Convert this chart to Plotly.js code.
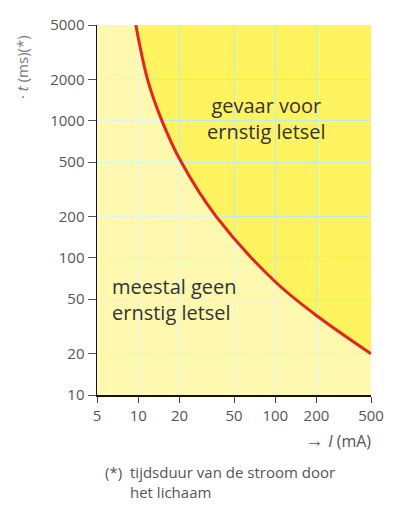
<!DOCTYPE html>
<html>
<head>
<meta charset="utf-8">
<script src="https://cdn.plot.ly/plotly-3.0.1.min.js"></script>
<style>html,body{margin:0;padding:0;background:#fff;}#chart{width:398px;height:516px;}</style>
</head>
<body>
<div id="chart"></div>
<script>
// Data
const currentMA = [9.6, 11.7, 14.9, 20.6, 37.1, 100, 200, 500];
const timeMS    = [5000, 2000, 1000, 500, 200, 67, 38, 20];
const xTicks = [5, 10, 20, 50, 100, 200, 500];
const yTicks = [10, 20, 50, 100, 200, 500, 1000, 2000, 5000];
const xMin = 5, xMax = 500, yMin = 10, yMax = 5000;

const FONT = "Open Sans, Noto Sans, sans-serif";

// boundary path (left & bottom edges of the plot) for the light region
const boundary = {
  x: [xMin, xMin, xMax],
  y: [yMax, yMin, yMin],
  mode: 'lines', line: {width: 0, color: 'rgba(0,0,0,0)'},
  hoverinfo: 'skip', showlegend: false
};
const lightFill = {
  x: currentMA, y: timeMS,
  mode: 'lines', line: {width: 0, shape: 'spline', smoothing: 1, color: 'rgba(0,0,0,0)'},
  fill: 'tonexty', fillcolor: 'rgba(255,255,255,0.5)',
  hoverinfo: 'skip', showlegend: false
};
const curve = {
  x: currentMA, y: timeMS,
  mode: 'lines', line: {width: 3, shape: 'spline', smoothing: 1, color: '#e3261c'},
  showlegend: false
};

const layout = {
  width: 398, height: 516,
  margin: {l: 97, r: 27, t: 25, b: 121},
  paper_bgcolor: '#ffffff',
  plot_bgcolor: '#fff35f',
  font: {family: FONT, size: 15, color: '#555'},
  showlegend: false,
  xaxis: {
    type: 'log', range: [Math.log10(xMin), Math.log10(xMax)],
    tickmode: 'array', tickvals: xTicks, ticktext: xTicks.map(String),
    ticks: 'outside', ticklen: 6, tickcolor: '#444', tickwidth: 1,
    showline: true, linecolor: '#111', linewidth: 1.5,
    showgrid: true, gridcolor: '#b8eeee', gridwidth: 1,
    zeroline: false, tickfont: {size: 15, color: '#555'}
  },
  yaxis: {
    type: 'log', range: [Math.log10(yMin), Math.log10(yMax)],
    tickmode: 'array', tickvals: yTicks, ticktext: yTicks.map(String),
    ticks: 'outside', ticklen: 8, tickcolor: '#555', tickwidth: 1,
    showline: true, linecolor: '#111', linewidth: 1.5,
    showgrid: true, gridcolor: '#b8eeee', gridwidth: 1,
    zeroline: false, tickfont: {size: 15, color: '#555'}
  },
  annotations: [
    {text: '· <i>t</i> (ms)(*)', xref: 'paper', yref: 'paper', x: (22-97)/274, y: (395-67)/370,
     xanchor: 'center', yanchor: 'middle',
     textangle: -90, showarrow: false, font: {size: 15, color: '#777'}},
    {text: '<span style="color:#e3261c;font-size:19px">→</span> <i>I</i> (mA)', xref: 'paper', yref: 'paper',
     x: (373-97)/274, y: (395-440)/370, xanchor: 'right', yanchor: 'middle', showarrow: false,
     font: {size: 16, color: '#555'}},
    {text: '(*)', xref: 'paper', yref: 'paper', x: (103-97)/274, y: (395-472)/370,
     xanchor: 'left', yanchor: 'middle', showarrow: false, font: {size: 15, color: '#555'}},
    {text: 'tijdsduur van de stroom door<br>het lichaam', xref: 'paper', yref: 'paper',
     x: (128-97)/274, y: (395-482)/370, xanchor: 'left', yanchor: 'middle', align: 'left',
     showarrow: false, font: {size: 15, color: '#555'}},
    {text: 'gevaar voor<br>ernstig letsel', xref: 'paper', yref: 'paper',
     x: (266-97)/274, y: (395-119)/370, xanchor: 'center', yanchor: 'middle', align: 'center',
     showarrow: false, font: {size: 20, color: '#333'}},
    {text: 'meestal geen<br>ernstig letsel', xref: 'paper', yref: 'paper',
     x: (110-97)/274, y: (395-299)/370, xanchor: 'left', yanchor: 'middle', align: 'left',
     showarrow: false, font: {size: 20, color: '#333'}}
  ]
};

Plotly.newPlot('chart', [boundary, lightFill, curve], layout, {displayModeBar: false, staticPlot: true});
</script>
</body>
</html>
